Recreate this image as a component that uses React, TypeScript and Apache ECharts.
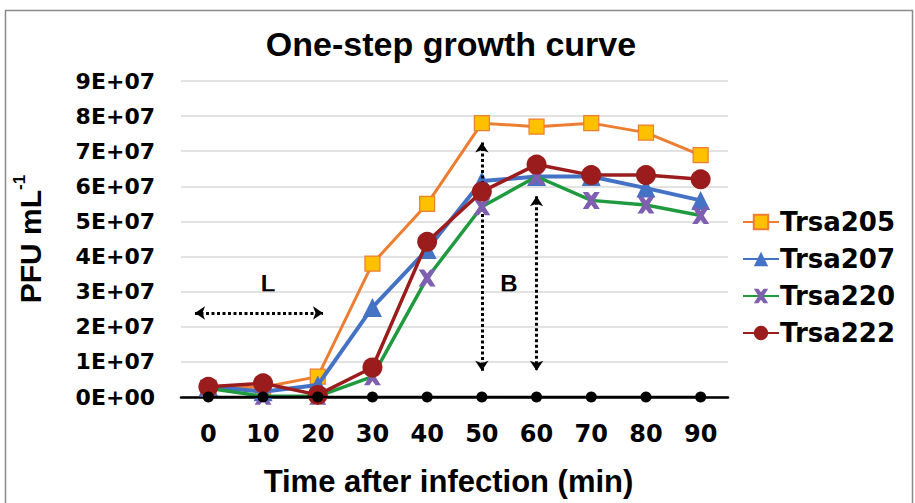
import React, { useEffect, useRef } from "react";
import * as echarts from "echarts";

const categories = ["0", "10", "20", "30", "40", "50", "60", "70", "80", "90"];
const trsa205 = [2.5e6, 2.8e6, 5.8e6, 3.8e7, 5.5e7, 7.8e7, 7.7e7, 7.8e7, 7.53e7, 6.89e7];
const trsa207 = [3.0e6, 1.5e6, 3.4e6, 2.55e7, 4.2e7, 6.15e7, 6.28e7, 6.28e7, 5.95e7, 5.6e7];
const trsa220 = [2.5e6, 0.2e6, 0.2e6, 5.8e6, 3.39e7, 5.42e7, 6.28e7, 5.6e7, 5.47e7, 5.17e7];
const trsa222 = [2.9e6, 3.9e6, 0.6e6, 8.4e6, 4.42e7, 5.85e7, 6.62e7, 6.32e7, 6.32e7, 6.2e7];
const baseline = [0, 0, 0, 0, 0, 0, 0, 0, 0, 0];
const yTicks = { min: 0, max: 9e7, interval: 1e7 };

const crossPath =
  "path://M0,0 L3.2,0 L5,2.4 L6.8,0 L10,0 L6.8,5 L10,10 L6.8,10 L5,7.6 L3.2,10 L0,10 L3.2,5 Z";

function fmtSci(v: number): string {
  if (v === 0) return "0E+00";
  const e = Math.floor(Math.log10(v));
  const m = Math.round(v / Math.pow(10, e));
  return `${m}E+${String(e).padStart(2, "0")}`;
}

const FONT = "'Liberation Sans', Arial, Helvetica, sans-serif";
const WIDE = "'DejaVu Sans', 'Liberation Sans', Arial, sans-serif";

export default function App() {
  const ref = useRef<HTMLDivElement>(null);
  useEffect(() => {
    if (!ref.current) return;
    const chart = echarts.init(ref.current, null, { renderer: "svg" });
    chart.setOption({
      animation: false,
      backgroundColor: "#ffffff",
      textStyle: { fontFamily: FONT },
      title: {
        text: "One-step growth curve",
        left: 446,
        textAlign: "center",
        top: 22,
        textStyle: { fontSize: 34, fontWeight: "bold", color: "#000", fontFamily: FONT },
      },
      legend: {
        orient: "vertical",
        left: 737,
        top: 204,
        itemGap: 11,
        itemWidth: 36,
        itemHeight: 18,
        data: ["Trsa205", "Trsa207", "Trsa220", "Trsa222"],
        textStyle: { fontSize: 26, fontWeight: "bold", color: "#000", fontFamily: WIDE, padding: [0, 0, 0, -4] },
      },
      grid: { left: 181, right: 187, top: 81, bottom: 106, containLabel: false, outerBoundsMode: "none" },
      xAxis: {
        type: "category",
        data: categories,
        boundaryGap: true,
        name: "Time after infection (min)",
        nameLocation: "middle",
        nameGap: 69,
        nameTextStyle: { fontSize: 31, fontWeight: "bold", color: "#000", fontFamily: FONT, padding: [0, 12, 0, 0] },
        axisLine: { lineStyle: { color: "#000", width: 2.5 } },
        axisTick: { show: false },
        axisLabel: { fontSize: 24, fontWeight: "bold", color: "#000", margin: 25, fontFamily: WIDE },
        splitLine: { show: false },
      },
      yAxis: {
        type: "value",
        min: yTicks.min,
        max: yTicks.max,
        interval: yTicks.interval,
        name: "{a|PFU mL}{b|-1}",
        nameLocation: "middle",
        nameGap: 136,
        nameRotate: 90,
        nameTextStyle: {
          rich: {
            a: { fontSize: 30, fontWeight: "bold", color: "#000", fontFamily: FONT, lineHeight: 34, verticalAlign: "bottom" },
            b: { fontSize: 17, fontWeight: "bold", color: "#000", fontFamily: FONT, lineHeight: 34, verticalAlign: "top", padding: [0, 0, 14, 0] },
          },
        },
        axisLine: { show: false },
        axisTick: { show: false },
        axisLabel: { fontSize: 22, fontWeight: "bold", color: "#000", margin: 26, formatter: fmtSci, fontFamily: WIDE },
        splitLine: { lineStyle: { color: "#d9d9d9", width: 1.5 } },
      },
      graphic: [
        {
          type: "rect",
          shape: { x: 5.5, y: 10.5, width: 907, height: 520 },
          style: { fill: "none", stroke: "#8a8a8a", lineWidth: 1.5 },
          silent: true,
          z: -10,
        },
        {
          type: "text",
          x: 268,
          y: 283,
          style: { text: "L", fontSize: 24, fontWeight: "bold", fill: "#000", fontFamily: FONT, textAlign: "center", textVerticalAlign: "middle" },
        },
        {
          type: "text",
          x: 509,
          y: 283,
          style: { text: "B", fontSize: 24, fontWeight: "bold", fill: "#000", fontFamily: FONT, textAlign: "center", textVerticalAlign: "middle" },
        },
      ],
      series: [
        {
          name: "Trsa205",
          type: "line",
          data: trsa205,
          symbol: "rect",
          symbolSize: 15,
          lineStyle: { color: "#ED7D31", width: 3 },
          itemStyle: { color: "#FFC000", borderColor: "#ED7D31", borderWidth: 1.2 },
          z: 3,
        },
        {
          name: "Trsa207",
          type: "line",
          data: trsa207,
          symbol: "triangle",
          symbolSize: 19,
          lineStyle: { color: "#4472C4", width: 4 },
          itemStyle: { color: "#4472C4" },
          z: 4,
        },
        {
          name: "Trsa220",
          type: "line",
          data: trsa220,
          symbol: crossPath,
          symbolSize: 17,
          lineStyle: { color: "#1F9A3E", width: 3.5 },
          itemStyle: { color: "#7E5FB0" },
          z: 5,
        },
        {
          name: "Trsa222",
          type: "line",
          data: trsa222,
          symbol: "circle",
          symbolSize: 20,
          lineStyle: { color: "#9B1C1C", width: 3.5 },
          itemStyle: { color: "#9B1C1C" },
          z: 6,
        },
        {
          name: "baseline",
          type: "line",
          data: baseline,
          symbol: "circle",
          symbolSize: 11,
          lineStyle: { color: "#000", width: 2.5 },
          itemStyle: { color: "#000" },
          z: 8,
          markLine: {
            silent: true,
            symbol: ["arrow", "arrow"],
            symbolSize: [10, 10],
            label: { show: false },
            lineStyle: { color: "#000", width: 3, type: [3, 2.5] },
            data: [
              [{ coord: ["50", 7.25e7] }, { coord: ["50", 0.75e7] }],
              [{ coord: ["60", 5.72e7] }, { coord: ["60", 0.75e7] }],
              [{ x: 195, y: 313 }, { x: 323, y: 313 }],
            ],
          },
        },
      ],
    });
    return () => chart.dispose();
  }, []);
  return <div ref={ref} style={{ position: "fixed", left: 0, top: 0, width: 915, height: 503 }} />;
}
